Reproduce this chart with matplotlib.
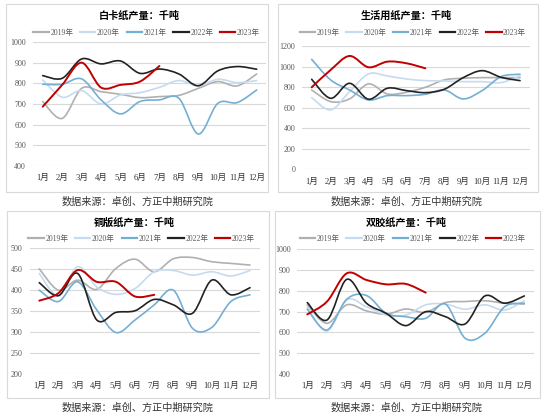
import matplotlib
matplotlib.use("Agg")
import matplotlib.pyplot as plt
from matplotlib.path import Path
from matplotlib.patches import PathPatch, Rectangle
import numpy as np

plt.rcParams['font.family'] = ['Liberation Serif', 'Noto Sans CJK SC', 'DejaVu Sans']

months = ['1月', '2月', '3月', '4月', '5月', '6月', '7月', '8月', '9月', '10月', '11月', '12月']
years = ['2019年', '2020年', '2021年', '2022年', '2023年']
colors = ['#B0B0B0', '#C6DBF0', '#74AFD3', '#222222', '#C00000']

# 白卡纸产量
baika = [
    [712, 630, 776, 760, 747, 731, 736, 742, 776, 809, 788, 846],
    [817, 733, 765, 700, 744, 755, 781, 814, 788, 820, 804, 814],
    [796, 796, 822, 720, 652, 712, 720, 728, 554, 703, 707, 768],
    [838, 825, 919, 895, 909, 849, 870, 846, 789, 861, 882, 869],
    [687, 793, 901, 780, 793, 809, 885],
]
# 生活用纸产量
shenghuo = [
    [772, 659, 685, 831, 733, 750, 798, 870, 886, 892, 892, 892],
    [698, 578, 756, 928, 908, 879, 863, 860, 853, 853, 844, 908],
    [1070, 870, 772, 675, 717, 717, 730, 772, 685, 766, 902, 925],
    [876, 691, 837, 682, 789, 766, 746, 779, 892, 960, 895, 863],
    [798, 967, 1103, 993, 1048, 1032, 983],
]
# 铜版纸产量
tongban = [
    [451, 400, 424, 402, 452, 474, 444, 475, 478, 468, 464, 460],
    [440, 387, 456, 408, 390, 404, 444, 447, 436, 444, 434, 447],
    [400, 373, 420, 353, 299, 329, 365, 400, 309, 311, 373, 389],
    [418, 387, 440, 329, 347, 351, 378, 365, 345, 424, 389, 406],
    [375, 393, 448, 420, 420, 385, 389],
]
# 双胶纸产量
shuangjiao = [
    [732, 643, 732, 703, 687, 712, 696, 743, 748, 752, 740, 736],
    [720, 606, 756, 723, 683, 683, 732, 736, 711, 732, 707, 752],
    [711, 611, 759, 777, 691, 675, 667, 736, 571, 595, 723, 740],
    [743, 659, 855, 740, 691, 632, 699, 675, 640, 775, 740, 775],
    [686, 748, 884, 852, 831, 833, 791],
]

W, H = 550, 419
fig = plt.figure(figsize=(W / 100, H / 100), dpi=100)


def fx(px):
    return px / W


def fy(py):
    return 1 - py / H


def smooth_path(xs, ys):
    pts = np.column_stack([xs, ys]).astype(float)
    n = len(pts)
    verts = [pts[0]]
    codes = [Path.MOVETO]
    for i in range(n - 1):
        p0 = pts[i - 1] if i > 0 else pts[i]
        p1 = pts[i]
        p2 = pts[i + 1]
        p3 = pts[i + 2] if i + 2 < n else pts[i + 1]
        c1 = p1 + (p2 - p0) / 6.0
        c2 = p2 - (p3 - p1) / 6.0
        verts += [c1, c2, p2]
        codes += [Path.CURVE4] * 3
    return Path(verts, codes)


panels = [
    dict(title='白卡纸产量：千吨', data=baika, ylim=(400, 1000), step=100,
         box=(6, 4, 268, 192), ax=(33, 42.3, 266.4, 165.7), title_y=16, leg_y=33, cap_y=202, cap_x=138),
    dict(title='生活用纸产量：千吨', data=shenghuo, ylim=(0, 1200), step=200,
         box=(278, 4, 538, 192), ax=(302.2, 46, 529.5, 169.3), title_y=16, leg_y=33, cap_y=202, cap_x=407),
    dict(title='铜版纸产量：千吨', data=tongban, ylim=(200, 500), step=50,
         box=(7, 211, 269, 398), ax=(29.7, 248.3, 259.6, 374), title_y=223, leg_y=239, cap_y=408, cap_x=138),
    dict(title='双胶纸产量：千吨', data=shuangjiao, ylim=(400, 1000), step=100,
         box=(275, 211, 540, 398), ax=(297.4, 249.3, 534.2, 373.7), title_y=223, leg_y=239, cap_y=408, cap_x=407),
]

for p in panels:
    bx0, by0, bx1, by1 = p['box']
    fig.patches.append(Rectangle((fx(bx0), fy(by1)), fx(bx1 - bx0), (by1 - by0) / H,
                                 transform=fig.transFigure, fill=False,
                                 edgecolor='#D9D9D9', linewidth=0.8))
    x0, y0, x1, y1 = p['ax']
    ax = fig.add_axes([fx(x0), fy(y1), fx(x1 - x0), (y1 - y0) / H])
    ax.set_xlim(-0.5, 11.5)
    ax.set_ylim(*p['ylim'])
    ax.set_yticks(np.arange(p['ylim'][0], p['ylim'][1] + 1, p['step']))
    ax.set_xticks(range(12))
    ax.set_xticklabels(months, fontsize=6.2, color='#333333')
    ax.tick_params(axis='y', labelsize=5.8, colors='#595959', length=0, pad=5)
    ax.tick_params(axis='x', length=0, pad=6, colors='#333333')
    for s in ax.spines.values():
        s.set_visible(False)
    ax.grid(axis='y', color='#D9D9D9', linewidth=0.8)
    ax.set_axisbelow(True)
    ax.patch.set_alpha(0)
    handles = []
    for i, series in enumerate(p['data']):
        xs = np.arange(len(series))
        lw = 1.4 if i == 4 else 1.2
        path = smooth_path(xs, series)
        ax.add_patch(PathPatch(path, fill=False, edgecolor=colors[i], linewidth=lw,
                               zorder=3 + i, capstyle='round', joinstyle='round'))
        h, = ax.plot([], [], color=colors[i], linewidth=1.6, label=years[i])
        handles.append(h)
    fig.text(fx((x0 + x1) / 2 - 10), fy(p['title_y']), p['title'], ha='center', va='center',
             fontsize=7.3, fontweight='bold', family=['Noto Sans CJK SC'])
    fig.legend(handles=handles, loc='center', bbox_to_anchor=(fx((x0 + x1) / 2 - 3), fy(p['leg_y'])),
               ncol=5, frameon=False, fontsize=5.5, handlelength=2.0, columnspacing=0.9,
               handletextpad=0.2, labelcolor='#595959', borderpad=0.1)
    fig.text(fx(p['cap_x']), fy(p['cap_y']), '数据来源：卓创、方正中期研究院', ha='center', va='center',
             fontsize=7.3, color='#333333', family=['Noto Sans CJK SC'])

fig.savefig('out.png', dpi=100, facecolor='white')
